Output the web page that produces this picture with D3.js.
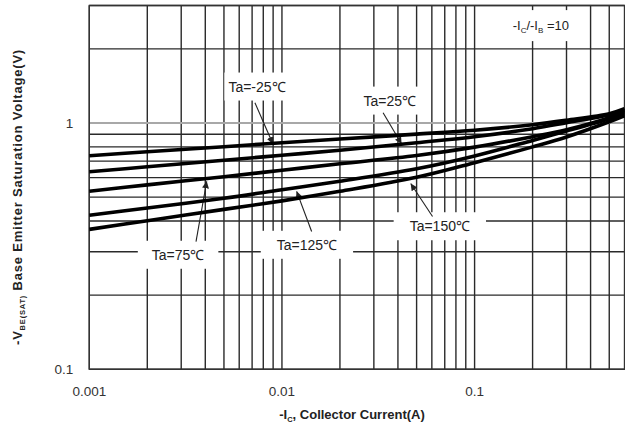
<!DOCTYPE html>
<html>
<head>
<meta charset="utf-8">
<script src="https://cdn.jsdelivr.net/npm/d3@7"></script>
<style>
  body { margin: 0; background: #fff; }
  svg { display: block; font-family: "Liberation Sans", Arial, sans-serif; }
</style>
</head>
<body>
<div id="chart"></div>
<script>
// collector current (A)
var currents = [0.001, 0.002, 0.005, 0.01, 0.02, 0.05, 0.1, 0.2, 0.3, 0.5, 0.6];
// -VBE(sat) (V) per ambient temperature
var vbeM25 = [0.736, 0.764, 0.801, 0.832, 0.861, 0.901, 0.935, 0.984, 1.026, 1.091, 1.143];
var vbe25  = [0.634, 0.664, 0.706, 0.740, 0.775, 0.832, 0.880, 0.948, 1.003, 1.081, 1.127];
var vbe75  = [0.528, 0.561, 0.605, 0.643, 0.683, 0.738, 0.798, 0.880, 0.939, 1.051, 1.111];
var vbe125 = [0.422, 0.452, 0.495, 0.536, 0.580, 0.652, 0.735, 0.850, 0.928, 1.041, 1.091];
var vbe150 = [0.370, 0.401, 0.446, 0.483, 0.528, 0.602, 0.690, 0.800, 0.878, 1.012, 1.071];
var temps = ["-25", "25", "75", "125", "150"];

var xTickLabels = [0.001, 0.01, 0.1];
var yTickLabels = [0.1, 1];

var margin = {top: 5.5, right: 0.5, bottom: 57.7, left: 89.3},
    width = 625,
    height = 427;

var series = [vbeM25, vbe25, vbe75, vbe125, vbe150].map(function(v, i) {
  return {
    temp: temps[i],
    values: currents.map(function(c, j) { return {x: c, y: v[j]}; })
  };
});

var w = width - margin.left - margin.right,
    h = height - margin.top - margin.bottom;

var x = d3.scaleLog().domain([0.001, 0.6]).range([0, w]),
    y = d3.scaleLog().domain([0.1, 3]).range([h, 0]);

var svg = d3.select("#chart").append("svg")
    .attr("width", width)
    .attr("height", height);
var g = svg.append("g")
    .attr("transform", "translate(" + margin.left + "," + margin.top + ")");

// grid: every 1..9 per decade
var xGrid = [], yGrid = [];
[0.001, 0.01, 0.1].forEach(function(d) {
  for (var k = 1; k < 10; k++) if (d * k <= 0.6) xGrid.push(d * k);
});
[0.1, 1].forEach(function(d) {
  for (var k = 1; k < 10; k++) if (d * k <= 3) yGrid.push(d * k);
});

g.append("g").attr("class", "grid x")
  .selectAll("line").data(xGrid).enter().append("line")
    .attr("x1", function(d) { return x(d); })
    .attr("x2", function(d) { return x(d); })
    .attr("y1", 0).attr("y2", h)
    .attr("stroke", "#2a2a2a")
    .attr("stroke-width", 1.4);

g.append("g").attr("class", "grid y")
  .selectAll("line").data(yGrid).enter().append("line")
    .attr("x1", 0).attr("x2", w)
    .attr("y1", function(d) { return y(d); })
    .attr("y2", function(d) { return y(d); })
    .attr("stroke", function(d) { return d === 1 ? "#a8a8a8" : "#2a2a2a"; })
    .attr("stroke-width", function(d) { return d === 1 ? 2 : 1.4; });

// frame
g.append("rect")
  .attr("width", w).attr("height", h)
  .attr("fill", "none")
  .attr("stroke", "#333")
  .attr("stroke-width", 1.4);

// annotations, positioned in data units
var notes = [
  {text: "Ta=-25\u2103", lx: 0.00742, ly: 1.405, tx: 0.00898, ty: 0.822, fx: 0.00724, fy: 1.209, px: 4},
  {text: "Ta=25\u2103",  lx: 0.0363,  ly: 1.232, tx: 0.0418,  ty: 0.822, fx: 0.0335,  fy: 1.101, px: 12},
  {text: "Ta=75\u2103",  lx: 0.00289, ly: 0.2915, tx: 0.00407, ty: 0.580, fx: 0.00358, fy: 0.330, px: 14},
  {text: "Ta=125\u2103", lx: 0.01348, ly: 0.320, tx: 0.01192, ty: 0.528, fx: 0.01426, fy: 0.3625, px: 16},
  {text: "Ta=150\u2103", lx: 0.066,   ly: 0.3806, tx: 0.0466, ty: 0.568, fx: 0.0605,  fy: 0.417, px: 16}
];

svg.append("defs").append("marker")
    .attr("id", "head")
    .attr("viewBox", "0 0 10 10")
    .attr("refX", 10).attr("refY", 5)
    .attr("markerWidth", 7).attr("markerHeight", 7)
    .attr("markerUnits", "userSpaceOnUse")
    .attr("orient", "auto")
  .append("path")
    .attr("d", "M0,0L10,5L0,10z")
    .attr("fill", "#222");

var noteG = g.append("g").attr("class", "notes");
var labels = noteG.selectAll("g.note").data(notes).enter().append("g").attr("class", "note");
labels.append("rect").attr("fill", "#fff");
labels.append("text")
    .attr("x", function(d) { return x(d.lx); })
    .attr("y", function(d) { return y(d.ly); })
    .attr("dy", "0.35em")
    .attr("text-anchor", "middle")
    .attr("font-size", 14)
    .attr("fill", "#222")
    .text(function(d) { return d.text; });
labels.each(function(d) {
  var bb = d3.select(this).select("text").node().getBBox();
  d3.select(this).select("rect")
    .attr("x", bb.x - d.px).attr("y", bb.y - 6)
    .attr("width", bb.width + 2 * d.px).attr("height", bb.height + 12);
});

// ratio note
var ratio = noteG.append("g");
ratio.append("rect").attr("fill", "#fff");
var rt = ratio.append("text")
    .attr("x", x(0.2208)).attr("y", y(2.487))
    .attr("dy", "0.35em")
    .attr("text-anchor", "middle")
    .attr("font-size", 13)
    .attr("fill", "#222");
rt.append("tspan").text("-I");
rt.append("tspan").attr("font-size", 8).attr("dy", 3).text("C");
rt.append("tspan").attr("dy", -3).text("/-I");
rt.append("tspan").attr("font-size", 8).attr("dy", 3).text("B");
rt.append("tspan").attr("dy", -3).text(" =10");
(function() {
  var bb = rt.node().getBBox();
  ratio.select("rect")
    .attr("x", bb.x - 18).attr("y", bb.y - 8)
    .attr("width", bb.width + 36).attr("height", bb.height + 14);
})();

// curves
var line = d3.line()
  .curve(d3.curveCatmullRom.alpha(0.5))
  .x(function(d) { return x(d.x); })
  .y(function(d) { return y(d.y); });

g.append("g").attr("class", "lines")
  .selectAll("path").data(series).enter().append("path")
    .attr("d", function(d) { return line(d.values); })
    .attr("fill", "none")
    .attr("stroke", "#000")
    .attr("stroke-width", 3.6);

// arrows
noteG.selectAll("line.arrow").data(notes).enter().append("line")
    .attr("class", "arrow")
    .attr("x1", function(d) { return x(d.fx); })
    .attr("y1", function(d) { return y(d.fy); })
    .attr("x2", function(d) { return x(d.tx); })
    .attr("y2", function(d) { return y(d.ty); })
    .attr("stroke", "#222")
    .attr("stroke-width", 1.1)
    .attr("marker-end", "url(#head)");

// tick labels
g.append("g").selectAll("text").data(xTickLabels).enter().append("text")
    .attr("x", function(d) { return x(d); })
    .attr("y", h + 22)
    .attr("dy", "0.35em")
    .attr("text-anchor", "middle")
    .attr("font-size", 13.5)
    .attr("fill", "#333")
    .text(function(d) { return String(d); });

g.append("g").selectAll("text").data(yTickLabels).enter().append("text")
    .attr("x", -16)
    .attr("y", function(d) { return y(d); })
    .attr("dy", "0.35em")
    .attr("text-anchor", "end")
    .attr("font-size", 13.5)
    .attr("fill", "#333")
    .text(function(d) { return String(d); });

// axis titles
var xt = svg.append("text")
    .attr("x", 352).attr("y", 414)
    .attr("dy", "0.35em")
    .attr("text-anchor", "middle")
    .attr("font-size", 13)
    .attr("font-weight", "bold")
    .attr("fill", "#222");
xt.append("tspan").text("-I");
xt.append("tspan").attr("font-size", 7.5).attr("dy", 3).text("C");
xt.append("tspan").attr("dy", -3).text(", Collector Current(A)");

var yt = svg.append("text")
    .attr("transform", "translate(17,197) rotate(-90)")
    .attr("dy", "0.35em")
    .attr("text-anchor", "middle")
    .attr("font-size", 13)
    .attr("font-weight", "bold")
    .attr("letter-spacing", 0.8)
    .attr("fill", "#222");
yt.append("tspan").text("-V");
yt.append("tspan").attr("font-size", 7.5).attr("dy", 3).text("BE(SAT)");
yt.append("tspan").attr("dy", -3).text(" Base Emitter Saturation Voltage(V)");
</script>
</body>
</html>
